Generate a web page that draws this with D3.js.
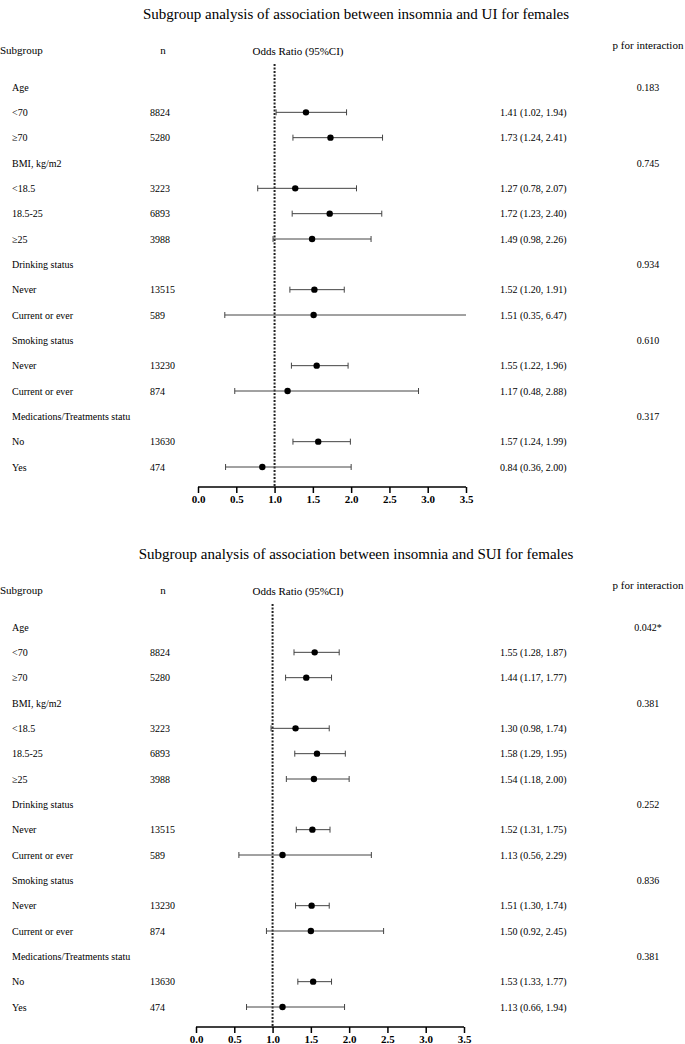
<!DOCTYPE html>
<html>
<head>
<meta charset="utf-8">
<script src="https://cdn.jsdelivr.net/npm/d3@7"></script>
<style>
  html, body { margin: 0; padding: 0; background: #fff; }
  svg { display: block; }
  svg text { font-family: "Liberation Serif", "Times New Roman", serif; }
</style>
</head>
<body>
<svg id="chart" width="685" height="1044"></svg>
<script>
// ---------- data ----------
const rowLabels = ["Age", "<70", "≥70", "BMI, kg/m2", "<18.5", "18.5-25", "≥25",
  "Drinking status", "Never", "Current or ever", "Smoking status", "Never", "Current or ever",
  "Medications/Treatments statu", "No", "Yes"];
const rowIsGroup = [1, 0, 0, 1, 0, 0, 0, 1, 0, 0, 1, 0, 0, 1, 0, 0];
const nValues = ["", "8824", "5280", "", "3223", "6893", "3988", "", "13515", "589", "", "13230", "874", "", "13630", "474"];

// Panel 1: UI
const uiTitle = "Subgroup analysis of association between insomnia and UI for females";
const uiOR   = [null, 1.41, 1.73, null, 1.27, 1.72, 1.49, null, 1.52, 1.51, null, 1.55, 1.17, null, 1.57, 0.84];
const uiLow  = [null, 1.02, 1.24, null, 0.78, 1.23, 0.98, null, 1.20, 0.35, null, 1.22, 0.48, null, 1.24, 0.36];
const uiHigh = [null, 1.94, 2.41, null, 2.07, 2.40, 2.26, null, 1.91, 6.47, null, 1.96, 2.88, null, 1.99, 2.00];
const uiP    = ["0.183", "", "", "0.745", "", "", "", "0.934", "", "", "0.610", "", "", "0.317", "", ""];

// Panel 2: SUI
const suiTitle = "Subgroup analysis of association between insomnia and SUI for females";
const suiOR   = [null, 1.55, 1.44, null, 1.30, 1.58, 1.54, null, 1.52, 1.13, null, 1.51, 1.50, null, 1.53, 1.13];
const suiLow  = [null, 1.28, 1.17, null, 0.98, 1.29, 1.18, null, 1.31, 0.56, null, 1.30, 0.92, null, 1.33, 0.66];
const suiHigh = [null, 1.87, 1.77, null, 1.74, 1.95, 2.00, null, 1.75, 2.29, null, 1.74, 2.45, null, 1.77, 1.94];
const suiP    = ["0.042*", "", "", "0.381", "", "", "", "0.252", "", "", "0.836", "", "", "0.381", "", ""];

const xTicks = [0, 0.5, 1, 1.5, 2, 2.5, 3, 3.5];
const headers = ["Subgroup", "n", "Odds Ratio (95%CI)", "p for interaction"];

// ---------- drawing ----------
const FONT = "Liberation Serif, Times New Roman, serif";
const svg = d3.select("#chart");

function drawPanel(offsetY, title, orArr, lowArr, highArr, pArr, xRange) {
  const g = svg.append("g").attr("transform", `translate(0,${offsetY})`)
    .attr("font-family", FONT);
  const x = d3.scaleLinear().domain([0, 3.5]).range(xRange);
  const idx = d3.range(rowLabels.length);
  const y = d3.scalePoint().domain(idx).range([87, 467]);
  const axisY = 487;

  g.append("text").attr("x", 356).attr("y", 14).attr("text-anchor", "middle")
    .attr("dominant-baseline", "central").attr("font-size", 15).text(title);

  g.append("text").attr("x", 0).attr("y", 50).attr("dominant-baseline", "central")
    .attr("font-size", 11).text(headers[0]);
  g.append("text").attr("x", 163).attr("y", 50).attr("text-anchor", "middle")
    .attr("dominant-baseline", "central").attr("font-size", 11).text(headers[1]);
  g.append("text").attr("x", 298).attr("y", 51).attr("text-anchor", "middle")
    .attr("dominant-baseline", "central").attr("font-size", 11).text(headers[2]);
  g.append("text").attr("x", 648).attr("y", 45).attr("text-anchor", "middle")
    .attr("dominant-baseline", "central").attr("font-size", 11).text(headers[3]);

  // reference line at OR = 1
  g.append("line").attr("x1", x(1)).attr("x2", x(1)).attr("y1", 64).attr("y2", axisY)
    .attr("stroke", "#222").attr("stroke-width", 2).attr("stroke-dasharray", "2,1.5");

  const rows = g.selectAll("g.row").data(idx).join("g").attr("class", "row")
    .attr("transform", i => `translate(0,${y(i)})`);

  rows.append("text").attr("x", 12).attr("dominant-baseline", "central")
    .attr("font-size", 10).text(i => rowLabels[i]);
  rows.append("text").attr("x", 150).attr("dominant-baseline", "central")
    .attr("font-size", 10).text(i => nValues[i]);
  rows.append("text").attr("x", 648).attr("text-anchor", "middle").attr("dominant-baseline", "central")
    .attr("font-size", 10).text(i => pArr[i]);

  const est = rows.filter(i => orArr[i] != null);
  est.append("text").attr("x", 500).attr("dominant-baseline", "central").attr("font-size", 10)
    .text(i => `${orArr[i].toFixed(2)} (${lowArr[i].toFixed(2)}, ${highArr[i].toFixed(2)})`);

  const xc = v => x(Math.max(0, Math.min(3.5, v)));
  est.append("line").attr("x1", i => xc(lowArr[i])).attr("x2", i => xc(highArr[i]))
    .attr("stroke", "#444").attr("stroke-width", 1);
  est.filter(i => lowArr[i] >= 0).append("line")
    .attr("x1", i => x(lowArr[i])).attr("x2", i => x(lowArr[i])).attr("y1", -3).attr("y2", 3)
    .attr("stroke", "#444").attr("stroke-width", 1);
  est.filter(i => highArr[i] <= 3.5).append("line")
    .attr("x1", i => x(highArr[i])).attr("x2", i => x(highArr[i])).attr("y1", -3).attr("y2", 3)
    .attr("stroke", "#444").attr("stroke-width", 1);
  est.append("circle").attr("cx", i => x(orArr[i])).attr("r", 3.2).attr("fill", "#000");

  const axis = d3.axisBottom(x).tickValues(xTicks).tickFormat(d3.format(".1f"))
    .tickSize(6).tickPadding(2);
  const ag = g.append("g").attr("transform", `translate(0,${axisY})`).call(axis);
  ag.attr("font-family", FONT);
  ag.select(".domain").attr("stroke", "#000").attr("stroke-width", 1.5)
    .attr("d", `M${xRange[0]},0H${xRange[1]}`);
  ag.selectAll(".tick line").attr("stroke", "#000").attr("stroke-width", 1.5);
  ag.selectAll(".tick text").attr("font-family", FONT)
    .attr("font-size", 11).attr("font-weight", "bold").attr("fill", "#000");
}

drawPanel(0, uiTitle, uiOR, uiLow, uiHigh, uiP, [198, 466]);
drawPanel(540, suiTitle, suiOR, suiLow, suiHigh, suiP, [196, 464]);
</script>
</body>
</html>
